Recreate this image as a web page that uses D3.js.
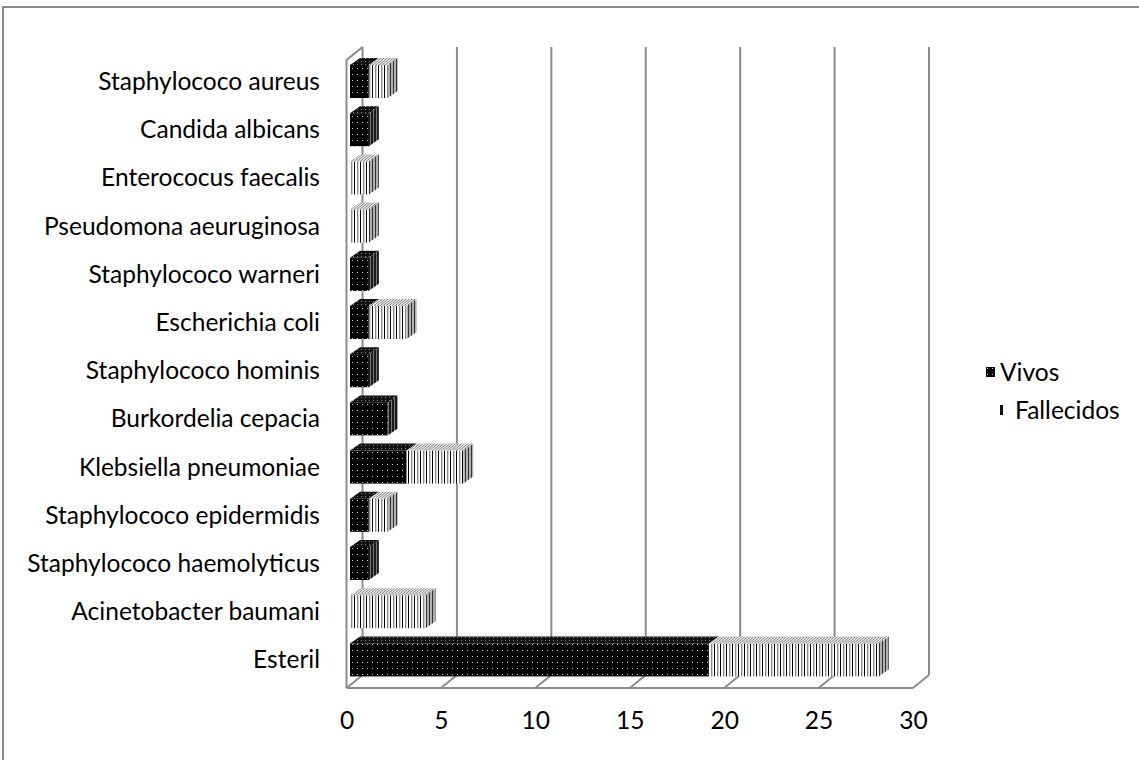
<!DOCTYPE html>
<html><head><meta charset="utf-8">
<script src="https://cdn.jsdelivr.net/npm/d3@7"></script>
<style>html,body{margin:0;padding:0;background:#fff;}svg{display:block;}</style>
</head><body>
<svg id="chart" width="1139" height="760"></svg>
<script>
const categories = ["Staphylococo aureus","Candida albicans","Enterococus faecalis","Pseudomona aeuruginosa","Staphylococo warneri","Escherichia coli","Staphylococo hominis","Burkordelia cepacia","Klebsiella pneumoniae","Staphylococo epidermidis","Staphylococo haemolyticus","Acinetobacter baumani","Esteril"];
const vivos      = [1,1,0,0,1,1,1,2,3,1,1,0,19];
const fallecidos = [1,0,1,1,0,2,0,0,3,1,0,4,9];
const seriesNames = ["Vivos","Fallecidos"];
const xTicks = [0,5,10,15,20,25,30];

const svg = d3.select("#chart");
const FONT = "Lato, 'Open Sans', sans-serif";
const GRID = "#8c8c8c";

// defs / patterns
const defs = svg.append("defs");
function pat(id, w, h, bg, items, transform){
  const p = defs.append("pattern").attr("id", id).attr("width", w).attr("height", h).attr("patternUnits","userSpaceOnUse");
  if (transform) p.attr("patternTransform", transform);
  p.append("rect").attr("width", w).attr("height", h).attr("fill", bg);
  items.forEach(it => p.append("rect").attr("x", it[0]).attr("y", it[1]).attr("width", it[2]).attr("height", it[3]).attr("fill", it[4]));
}
pat("vFront", 5, 6, "#000", [[2,2,1,1,"#c8c8c8"]]);
pat("vTop", 4, 3, "#111", [[1,1,1,1,"#888"]]);
pat("vSide", 3, 4, "#1a1a1a", [[1,0,1,4,"#777"]]);
pat("fFront", 6, 4, "#fff", [[0,0,1,4,"#000"],[3,0,1.4,4,"#8a8a8a"]]);
pat("fTop", 3, 4, "#e8e8e8", [[0,0,1,4,"#777"]], "skewX(-50)");
pat("fSide", 3, 4, "#b0b0b0", [[0,0,1,4,"#333"]]);

// geometry
const wallDX = 16, wallDY = 13;
const backTop = 47, backBottom = 675;
const xBack = d3.scaleLinear().domain([0,30]).range([362.5, 929]);
const barFrontX0 = 350;
const k = xBack(1) - xBack(0);
const xBar = d3.scaleLinear().domain([0,30]).range([barFrontX0, barFrontX0 + 30*k]);
const xFront = d3.scaleLinear().domain([0,30]).range([xBack(0)-wallDX, xBack(30)-wallDX]);
const y = d3.scaleBand().domain(categories).range([57.4, 684]).paddingInner(0.315).paddingOuter(0.1575);
const barDX = 10, barDY = 7;

// outer frame
svg.append("path").attr("d", "M3,760 L3,7 L1139,7").attr("fill","none").attr("stroke","#8a8a8a").attr("stroke-width",2);

const g = svg.append("g");
// left wall
g.append("path").attr("d", `M${xFront(0)},${backBottom+wallDY} L${xFront(0)},${backTop+wallDY} L${xBack(0)},${backTop}`)
  .attr("fill","none").attr("stroke",GRID).attr("stroke-width",2);
// gridlines on back wall
xTicks.forEach(t => {
  g.append("line").attr("x1", xBack(t)).attr("x2", xBack(t)).attr("y1", backTop).attr("y2", backBottom)
    .attr("stroke", GRID).attr("stroke-width", 2);
  g.append("line").attr("x1", xBack(t)).attr("x2", xFront(t)).attr("y1", backBottom).attr("y2", backBottom+wallDY)
    .attr("stroke", GRID).attr("stroke-width", 2);
});
// floor front edge
g.append("line").attr("x1", xFront(0)).attr("x2", xFront(30)).attr("y1", backBottom+wallDY).attr("y2", backBottom+wallDY)
  .attr("stroke", GRID).attr("stroke-width", 2);

// bars
const bars = svg.append("g");
categories.forEach((c, i) => {
  const y0 = y(c), h = y.bandwidth();
  const segs = [];
  let acc = 0;
  [[vivos[i], "v"], [fallecidos[i], "f"]].forEach(([v, s]) => {
    if (v > 0) { segs.push({a: acc, b: acc + v, s}); acc += v; }
  });
  segs.forEach((sg, j) => {
    const xa = xBar(sg.a), xb = xBar(sg.b);
    bars.append("rect").attr("x", xa).attr("y", y0).attr("width", xb - xa).attr("height", h).attr("fill", `url(#${sg.s}Front)`);
    bars.append("path").attr("d", `M${xa},${y0} L${xb},${y0} L${xb+barDX},${y0-barDY} L${xa+barDX},${y0-barDY} Z`).attr("fill", `url(#${sg.s}Top)`);
    if (j === segs.length - 1) {
      bars.append("path").attr("d", `M${xb},${y0} L${xb+barDX},${y0-barDY} L${xb+barDX},${y0+h-barDY} L${xb},${y0+h} Z`).attr("fill", `url(#${sg.s}Side)`);
    }
  });
});

// category labels
const labels = svg.append("g").attr("font-family", FONT).attr("fill", "#000");
const test = labels.append("text").attr("font-size", 20).text("Staphylococo haemolyticus");
const w20 = test.node().getComputedTextLength();
test.remove();
const fs = 20 * 293 / w20;
categories.forEach(c => {
  labels.append("text").attr("x", 320).attr("y", y(c) + y.bandwidth()/2).attr("dy", "0.35em")
    .attr("text-anchor", "end").attr("font-size", fs).text(c);
});

// x tick labels
const xAxis = d3.axisBottom(xFront).tickValues(xTicks).tickSize(0).tickPadding(0);
const ax = svg.append("g").attr("transform", `translate(0,${712})`).call(xAxis);
ax.select(".domain").remove();
ax.selectAll("text").attr("font-family", FONT).attr("font-size", fs).attr("fill", "#000");

// legend
const lg = svg.append("g").attr("font-family", FONT).attr("font-size", fs);
lg.append("rect").attr("x", 986).attr("y", 367).attr("width", 9).attr("height", 10).attr("fill", "url(#vFront)");
lg.append("text").attr("x", 1000).attr("y", 372).attr("dy", "0.35em").text(seriesNames[0]);
lg.append("rect").attr("x", 1000).attr("y", 405).attr("width", 3).attr("height", 10).attr("fill", "#111");
lg.append("text").attr("x", 1015).attr("y", 410).attr("dy", "0.35em").text(seriesNames[1]);
</script>
</body></html>
